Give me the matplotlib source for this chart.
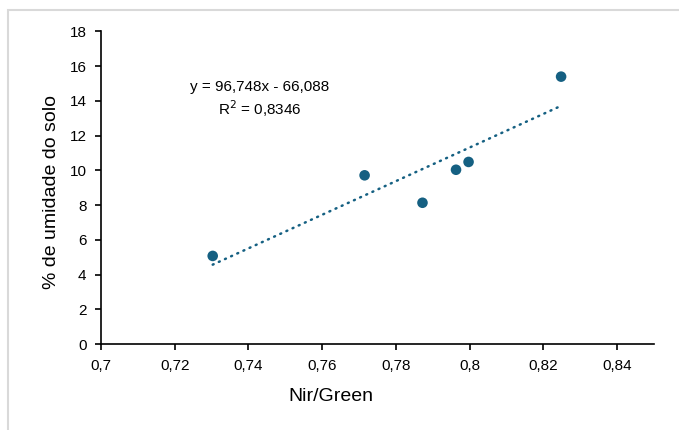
import matplotlib
matplotlib.use("Agg")
import matplotlib.pyplot as plt
from matplotlib.patches import Rectangle
import numpy as np

plt.rcParams['font.family'] = ['Liberation Sans', 'DejaVu Sans']

nir_green = [0.7303, 0.7715, 0.7872, 0.7963, 0.7997, 0.8248]
umidade = [5.07, 9.71, 8.13, 10.03, 10.48, 15.39]
slope = 96.748
intercept = -66.088
r2_text = "0,8346"
x_ticks = [0.70, 0.72, 0.74, 0.76, 0.78, 0.80, 0.82, 0.84]
x_tick_labels = ["0,7", "0,72", "0,74", "0,76", "0,78", "0,8", "0,82", "0,84"]
y_ticks = [0, 2, 4, 6, 8, 10, 12, 14, 16, 18]

color = "#156082"

fig = plt.figure(figsize=(6.79, 4.30), dpi=100)
ax = fig.add_axes([101/679, 1-344/430, (654-101)/679, (344-31.3)/430])

# chart border (light gray)
fig.patches.append(Rectangle((8/679, -0.5), 2.0, (1-10/430)+0.5,
                             transform=fig.transFigure, fill=False,
                             edgecolor="#d9d9d9", linewidth=1.5))

xs = np.array([min(nir_green), max(nir_green)])
ax.plot(xs, slope*xs + intercept, linestyle=(0, (0.4, 2.3)), color=color,
        linewidth=1.8, dash_capstyle='round')
ax.scatter(nir_green, umidade, s=58, color=color, zorder=3, edgecolors='none')

ax.set_xlim(0.70, 0.85)
ax.set_ylim(0, 18)
ax.set_xticks(x_ticks)
ax.set_xticklabels(x_tick_labels)
ax.set_yticks(y_ticks)

for s in ['top', 'right']:
    ax.spines[s].set_visible(False)
for s in ['left', 'bottom']:
    ax.spines[s].set_linewidth(1.2)
    ax.spines[s].set_color('black')
ax.tick_params(direction='out', length=4.5, width=1.2, labelsize=11, colors='black')
ax.tick_params(axis='x', pad=6)
ax.tick_params(axis='y', pad=6)

ax.set_xlabel("Nir/Green", fontsize=14)
ax.set_ylabel("% de umidade do solo", fontsize=14)
ax.xaxis.set_label_coords(0.415, -0.1407)
ax.yaxis.set_label_coords(-0.074, 0.4845)

ax.text(0.7431, 14.8, "y = 96,748x - 66,088", ha='center', va='center', fontsize=11)
ax.text(0.7431, 13.55, "R$^2$ = " + r2_text, ha='center', va='center', fontsize=11)

fig.savefig("out.png", dpi=100)
